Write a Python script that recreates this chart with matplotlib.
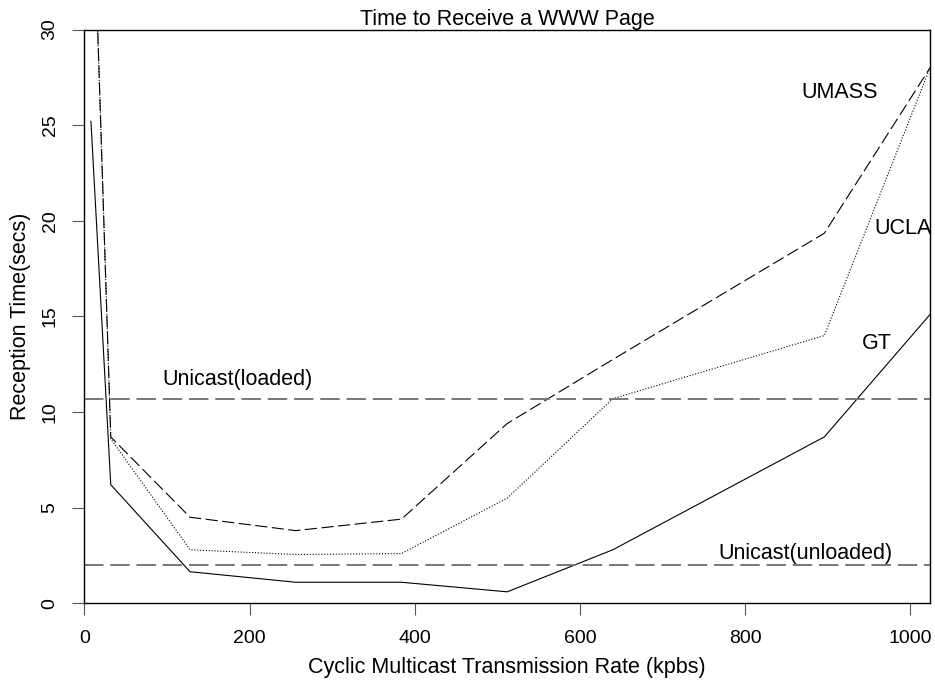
#!/usr/bin/env python3
"""Reception time of a WWW page vs cyclic multicast transmission rate."""

import matplotlib

matplotlib.use("Agg")
import matplotlib.pyplot as plt

plt.rcParams["font.family"] = ["Liberation Sans", "DejaVu Sans"]

RATES = [8, 32, 128, 256, 384, 512, 640, 896, 1024]
GT = [25.2, 6.2, 1.65, 1.1, 1.1, 0.6, 2.8, 8.7, 15.1]
UMASS = [41.0, 8.7, 4.5, 3.8, 4.4, 9.4, 12.75, 19.35, 28.0]
UCLA = [41.0, 8.6, 2.8, 2.55, 2.6, 5.5, 10.7, 14.0, 28.0]
UNICAST_LOADED = 10.7
UNICAST_UNLOADED = 2.0

SITE_LABELS = [("UMASS", 914, 26.7), ("UCLA", 991, 19.6), ("GT", 959, 13.6)]
REF_LABELS = [("Unicast(loaded)", 185, 11.7), ("Unicast(unloaded)", 873, 2.62)]

TEXT_SIZE = 15.5


def main() -> None:
    fig = plt.figure(figsize=(9.35, 6.82), dpi=100)
    ax = fig.add_axes([0.0902, 0.1154, 0.9045, 0.8413])

    ax.plot(RATES, GT, color="black", linewidth=0.8)
    ax.plot(RATES, UMASS, color="black", linewidth=0.8, linestyle=(0, (11, 4)))
    ax.plot(RATES, UCLA, color="black", linewidth=0.8, linestyle=(0, (1, 1.6)))

    gray_dash = (0, (10, 3.5))
    ax.axhline(UNICAST_LOADED, color="#777777", linewidth=1.4, linestyle=gray_dash)
    ax.axhline(UNICAST_UNLOADED, color="#777777", linewidth=1.4, linestyle=gray_dash)

    for text, x, y in SITE_LABELS + REF_LABELS:
        ax.text(x, y, text, ha="center", va="center", fontsize=TEXT_SIZE,
                clip_on=False)

    ax.set_xlim(0, 1024)
    ax.set_ylim(0, 30)
    ax.set_xticks([0, 200, 400, 600, 800, 1000])
    ax.set_yticks([0, 5, 10, 15, 20, 25, 30])
    ax.tick_params(axis="both", direction="out", length=8.5, width=0.8,
                   color="#555555", labelsize=14)
    ax.tick_params(axis="x", pad=11)
    ax.tick_params(axis="y", pad=10)
    for label in ax.get_yticklabels():
        label.set_rotation(90)
        label.set_va("center")

    for spine in ax.spines.values():
        spine.set_linewidth(1.0)

    ax.set_title("Time to Receive a WWW Page", fontsize=TEXT_SIZE, pad=3)
    ax.set_xlabel("Cyclic Multicast Transmission Rate (kpbs)", fontsize=TEXT_SIZE,
                  labelpad=7)
    ax.set_ylabel("Reception Time(secs)", fontsize=TEXT_SIZE, labelpad=8)

    fig.savefig("out.png", dpi=100)
    plt.close(fig)


if __name__ == "__main__":
    main()
